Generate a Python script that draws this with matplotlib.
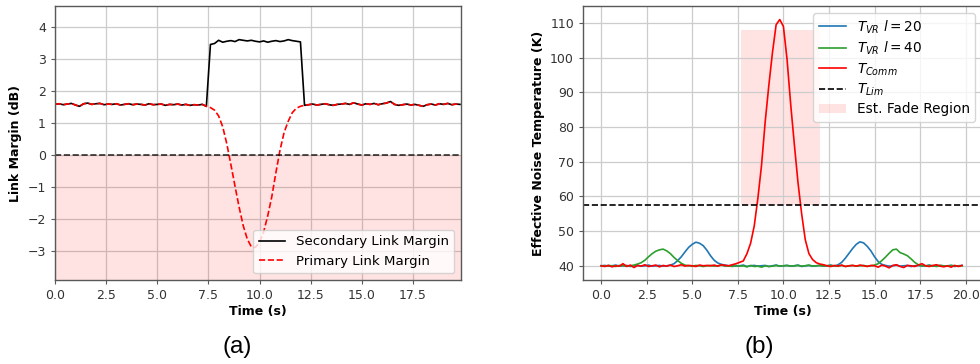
import numpy as np
import matplotlib
matplotlib.use('Agg')
import matplotlib.pyplot as plt

# time base, 0.2 s steps
t = np.round(np.arange(100) * 0.2, 1)

# (a) link margin (dB)
secondary = [1.58, 1.60, 1.57, 1.59, 1.61, 1.56, 1.52, 1.60, 1.62, 1.58,
             1.60, 1.61, 1.57, 1.59, 1.58, 1.60, 1.56, 1.58, 1.60, 1.57,
             1.59, 1.58, 1.56, 1.60, 1.57, 1.58, 1.59, 1.55, 1.58, 1.57,
             1.59, 1.56, 1.58, 1.55, 1.57, 1.56, 1.58, 1.52,
             3.45, 3.48, 3.58, 3.52, 3.55, 3.57, 3.54, 3.60, 3.58, 3.56,
             3.58, 3.55, 3.53, 3.56, 3.52, 3.55, 3.57, 3.54, 3.56, 3.60,
             3.57, 3.55, 3.53,
             1.55, 1.57, 1.59, 1.56, 1.58, 1.60, 1.57, 1.55, 1.58,
             1.59, 1.61, 1.58, 1.63, 1.59, 1.56, 1.60, 1.58, 1.61, 1.57,
             1.60, 1.62, 1.67, 1.58, 1.55, 1.57, 1.59, 1.56, 1.58, 1.55,
             1.52, 1.57, 1.59, 1.56, 1.60, 1.58, 1.61, 1.57, 1.59, 1.58]
# primary margin during the fade (7.6 s .. 12.0 s)
fade_dip = [1.48, 1.40, 1.22, 0.88, 0.35, -0.30, -0.97, -1.62, -2.20, -2.62,
            -2.87, -2.88, -2.72, -2.40, -1.90, -1.30, -0.55, 0.15, 0.70, 1.05,
            1.32, 1.46, 1.52]
primary = secondary[:38] + fade_dip + secondary[61:]

# (b) effective noise temperature (K)
t_vr20 = [40.0, 40.1, 39.9, 40.0, 40.2, 39.9, 40.0, 40.1, 39.8, 40.0,
          40.1, 39.9, 40.0, 40.2, 39.9, 40.0, 40.1, 39.9, 40.0,
          40.2, 40.6, 41.5, 42.6, 44.0, 45.3, 46.2, 46.8, 46.5, 45.8, 44.5,
          42.9, 41.6, 40.8, 40.4,
          40.2, 40.0, 40.1, 39.9, 40.0, 40.2, 39.8, 40.0, 40.1, 39.9,
          40.0, 40.1, 39.8, 40.0, 40.2, 39.9,
          40.0, 40.1, 39.9, 40.0, 40.2, 39.8, 40.0, 40.1, 39.9, 40.0,
          40.1, 39.9, 40.0, 40.2, 39.9,
          40.3, 41.0, 42.2, 43.6, 45.0, 46.2, 46.9, 46.6, 45.6, 44.3,
          42.6, 41.2, 40.4,
          40.1, 39.9, 40.0, 40.2, 39.9, 40.0, 40.1, 39.8, 40.0, 40.1,
          39.9, 40.0, 40.2, 39.9, 40.0, 40.1, 39.9, 40.0, 40.1, 39.8,
          40.0, 40.1]
t_vr40 = [40.0, 39.9, 40.1, 40.0, 39.8, 40.1, 40.0, 39.9, 40.0,
          40.2, 40.5, 40.9, 41.6, 42.6, 43.5, 44.2, 44.6, 44.8, 44.3,
          43.5, 42.4, 41.5, 40.7, 40.2,
          40.0, 39.9, 40.1, 40.0, 39.8, 40.0, 40.1, 39.9, 40.0, 40.2,
          39.9, 40.0, 39.8, 40.1, 39.9, 40.0, 39.7, 40.1, 39.8, 39.9,
          39.6, 40.0, 39.8, 39.9, 40.1, 39.9, 40.0, 40.1, 39.9, 40.0,
          40.1, 39.9, 40.0, 40.2, 39.9, 40.0, 40.1, 39.9, 40.0, 40.1,
          39.9, 40.0, 40.1, 39.8, 40.0, 40.1, 39.9, 40.0, 40.1, 39.9,
          40.0,
          40.2, 40.6, 41.5, 42.5, 43.6, 44.6, 44.8, 43.8, 43.4, 42.9,
          42.0, 41.0, 40.3,
          40.0, 39.9, 40.1, 40.0, 39.8, 40.1, 40.0, 39.9, 40.1, 40.0,
          39.9, 40.0]
t_comm = [40.0, 39.8, 40.1, 39.7, 40.0, 39.9, 40.6, 39.8, 40.2, 39.5,
          40.1, 39.9, 40.3, 39.8, 40.0, 40.2, 39.7, 40.1, 39.9, 40.2,
          39.8, 40.0, 40.3, 39.9, 40.1, 40.0, 39.8, 40.2, 40.0, 40.1,
          40.0, 40.2, 39.9, 40.3, 40.1, 40.0,
          40.3, 40.6, 41.0, 41.4, 43.5, 46.5, 51.5, 59.5, 69.0, 81.5,
          92.0, 101.5, 109.5, 111.0, 109.0, 99.5, 86.5, 75.0, 64.0, 55.0,
          47.5, 43.5, 41.8, 40.9, 40.5, 40.3,
          40.0, 39.8, 40.1, 39.9, 40.2, 39.8, 40.0, 40.1,
          39.9, 40.2, 40.0, 39.8, 40.1, 40.0, 39.6, 40.2, 39.9, 39.4,
          40.1, 40.3, 39.8, 39.5, 40.1, 40.0, 39.8, 40.2, 40.6, 40.0,
          39.8, 40.1, 40.3, 39.9, 39.7, 40.0, 39.6, 40.1, 39.8, 40.1]
t_lim = 57.5
fade_span = [7.7, 12.0]
fade_top = 108.0

spine_c = '0.35'
tick_c = '0.2'

fig = plt.figure(figsize=(9.8, 3.64), dpi=100)
ax1 = fig.add_axes([55 / 980, 84 / 364, 406 / 980, 274 / 364])
ax2 = fig.add_axes([583 / 980, 84 / 364, 399 / 980, 274 / 364])

for ax in (ax1, ax2):
    ax.set_axisbelow(True)
    ax.grid(True, color='0.8', lw=0.9)
    for s in ax.spines.values():
        s.set_color(spine_c)
        s.set_linewidth(1.0)
    ax.tick_params(labelsize=9, colors=spine_c, labelcolor=tick_c, length=3)
    ax.set_xlabel('Time (s)', fontsize=9, fontweight='bold', labelpad=2)

# (a)
ax1.axhspan(-3.9, 0, color='red', alpha=0.11, lw=0)
ax1.plot(t, secondary, color='black', lw=1.2, label='Secondary Link Margin')
ax1.plot(t, primary, color='red', ls='--', lw=1.2, label='Primary Link Margin')
ax1.axhline(0, color='black', ls='--', lw=1.2, alpha=0.8)
ax1.set_xlim(0, 19.85)
ax1.set_ylim(-3.9, 4.65)
ax1.set_xticks([0, 2.5, 5, 7.5, 10, 12.5, 15, 17.5])
ax1.set_yticks(range(-3, 5))
ax1.set_ylabel('Link Margin (dB)', fontsize=9, fontweight='bold')
ax1.legend(loc='lower right', fontsize=9.6, framealpha=0.8)

# (b)
ax2.plot(t, t_vr20, color='#1f77b4', lw=1.2, label=r'$T_{VR}\ l = 20$')
ax2.plot(t, t_vr40, color='#2ca02c', lw=1.2, label=r'$T_{VR}\ l = 40$')
ax2.plot(t, t_comm, color='red', lw=1.2, label=r'$T_{Comm}$')
ax2.axhline(t_lim, color='black', ls='--', lw=1.2, label=r'$T_{Lim}$')
ax2.fill_between(fade_span, t_lim, fade_top, color='red', alpha=0.11, lw=0,
                 label='Est. Fade Region', zorder=0.5)
ax2.set_xlim(-0.995, 20.895)
ax2.set_ylim(35.9, 114.9)
ax2.set_xticks([0, 2.5, 5, 7.5, 10, 12.5, 15, 17.5, 20])
ax2.set_yticks(range(40, 111, 10))
ax2.set_ylabel('Effective Noise Temperature (K)', fontsize=9, fontweight='bold')
ax2.legend(loc='upper right', fontsize=9.8, framealpha=0.8, labelspacing=0.3)

fig.text(237 / 980, 1 - 347 / 364, '(a)', ha='center', va='center',
         fontsize=17.5, family='Liberation Sans')
fig.text(759 / 980, 1 - 347 / 364, '(b)', ha='center', va='center',
         fontsize=17.5, family='Liberation Sans')

fig.savefig('out.png', dpi=100)
